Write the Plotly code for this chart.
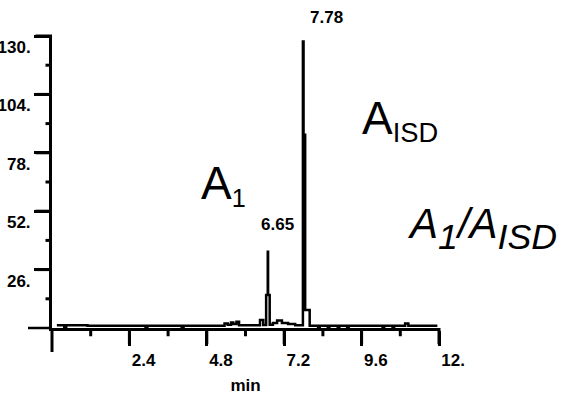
import plotly.graph_objects as go

# ---- data ----
time_min = [0.15, 0.38, 0.44, 1.10, 2.90, 2.96, 4.02, 4.08, 5.35, 5.45, 5.55, 5.62,
            5.72, 5.80, 6.45, 6.55, 6.64, 6.69, 6.70, 6.75, 6.85, 6.98, 7.13, 7.32,
            7.54, 7.78, 7.80, 7.85, 7.99, 8.25, 8.30, 8.55, 8.60, 8.86, 8.91, 9.15,
            9.20, 10.25, 10.30, 10.56, 10.61, 10.95, 11.05, 11.95]
abundance = [1.2, -1.2, 1.2, 1.0, -1.0, 1.0, -1.0, 1.0, 2.0, 1.5, 2.5, 1.8,
             2.8, 1.2, 3.6, 1.3, 14.7, 34.0, 14.7, 1.5, 2.2, 3.3, 2.2, 1.8,
             1.2, 127.6, 86.0, 8.0, 1.0, -1.2, 1.0, -1.2, 1.0, -1.0, 1.0, -1.0,
             1.0, -1.0, 1.0, -1.0, 1.0, 2.0, 1.0, 1.0]

peak_times = [6.65, 7.78]
peak_heights = [34.0, 127.6]
peak_labels = ["6.65", "7.78"]

x_tick_vals = [2.4, 4.8, 7.2, 9.6, 12]
x_tick_text = ["2.4", "4.8", "7.2", "9.6", "12."]
x_minor_vals = [1.2, 3.6, 6.0, 8.4, 10.8]
y_tick_vals = [26, 52, 78, 104, 130]
y_tick_text = ["26.", "52.", "78.", "104.", "130."]
y_minor_vals = [13, 39, 65, 91, 117]

X_RANGE = [0, 12]
Y_RANGE = [0, 130]

# ---- layout geometry ----
W, H = 561, 398
L, R, T, B = 52, 122, 36, 70
PW, PH = W - L - R, H - T - B


def px(xpix):
    return (xpix - L) / PW


def py(ypix):
    return (H - B - ypix) / PH


def xfrac(v):
    return (v - X_RANGE[0]) / (X_RANGE[1] - X_RANGE[0])


def yfrac(v):
    return (v - Y_RANGE[0]) / (Y_RANGE[1] - Y_RANGE[0])


TICKFONT = dict(family="Liberation Sans", size=17, color="black", weight="bold")
NBSP = "\u00a0"

fig = go.Figure()
fig.add_trace(go.Scatter(
    x=time_min, y=abundance, mode="lines", line_shape="hv", cliponaxis=False,
    line=dict(color="black", width=2.5), hoverinfo="skip", showlegend=False))

fig.update_layout(
    xaxis=dict(
        range=X_RANGE, showline=True, linecolor="black", linewidth=2.5,
        showgrid=False, zeroline=False, automargin=False,
        tickmode="array", tickvals=x_tick_vals,
        # labels sit to the right of their tick marks, as in the original printout
        ticktext=[NBSP * 6 + t for t in x_tick_text],
        ticks="outside", ticklen=15, tickwidth=3, tickcolor="black",
        tickfont=TICKFONT,
        title=dict(text="min", font=TICKFONT, standoff=10),
    ),
    yaxis=dict(
        range=Y_RANGE, showline=True, linecolor="black", linewidth=3,
        showgrid=False, zeroline=False, automargin=False,
        tickmode="array", tickvals=y_tick_vals,
        # labels hang just below their tick marks
        ticktext=["<br>" + t for t in y_tick_text],
        ticks="outside", ticklen=15, tickwidth=3, tickcolor="black",
        tickfont=TICKFONT,
    ),
)

# tick marks (major 15 px, minor shorter), anchored on the axis lines, not clipped
TICK_LINE = dict(color="black", width=3)
for v in x_tick_vals:
    fig.add_shape(type="line", xref="paper", x0=xfrac(v), x1=xfrac(v),
                  yref="paper", ysizemode="pixel", yanchor=0, y0=0, y1=-16.25,
                  line=TICK_LINE)
for v in x_minor_vals:
    fig.add_shape(type="line", xref="paper", x0=xfrac(v), x1=xfrac(v),
                  yref="paper", ysizemode="pixel", yanchor=0, y0=0, y1=-8.25,
                  line=TICK_LINE)
for v in y_tick_vals:
    fig.add_shape(type="line", yref="paper", y0=yfrac(v), y1=yfrac(v),
                  xref="paper", xsizemode="pixel", xanchor=0, x0=0, x1=-16.5,
                  line=TICK_LINE)
for v in y_minor_vals:
    fig.add_shape(type="line", yref="paper", y0=yfrac(v), y1=yfrac(v),
                  xref="paper", xsizemode="pixel", xanchor=0, x0=0, x1=-6.5,
                  line=TICK_LINE)

# axis-line extensions past the origin (y axis downward, x axis leftward)
fig.add_shape(type="line", xref="paper", yref="paper",
              x0=0, x1=0, y0=0, y1=py(352),
              line=dict(color="black", width=3))
fig.add_shape(type="line", xref="paper", yref="paper",
              x0=px(28), x1=0, y0=0, y1=0,
              line=dict(color="black", width=2.5))

# peak retention-time labels
label_shift = [(11, 27), (24, 24)]
for t, h, lab, (dx, dy) in zip(peak_times, peak_heights, peak_labels, label_shift):
    fig.add_annotation(x=t, y=h, xref="x", yref="y", text=lab, showarrow=False,
                       xshift=dx, yshift=dy, font=TICKFONT)

BIG = "Liberation Sans"
fig.add_annotation(
    xref="paper", yref="paper", x=px(199), y=py(184), xanchor="left", yanchor="middle",
    text="A<span style='font-size:36px'><sub>1</sub></span>", showarrow=False,
    font=dict(family=BIG, size=46, color="black"))
fig.add_annotation(
    xref="paper", yref="paper", x=px(360), y=py(120), xanchor="left", yanchor="middle",
    text="A<span style='font-size:39px'><sub>ISD</sub></span>", showarrow=False,
    font=dict(family=BIG, size=46, color="black"))
fig.add_annotation(
    xref="paper", yref="paper", x=px(405), y=py(228), xanchor="left", yanchor="middle",
    text="<i>A<span style='font-size:51px'><sub>1</sub></span>/A<span style='font-size:51px'><sub>ISD</sub></span></i>",
    showarrow=False, font=dict(family=BIG, size=42, color="black"))

fig.update_layout(
    width=W, height=H, margin=dict(l=L, r=R, t=T, b=B),
    paper_bgcolor="white", plot_bgcolor="white",
    showlegend=False,
)

fig.write_html("out.html")
